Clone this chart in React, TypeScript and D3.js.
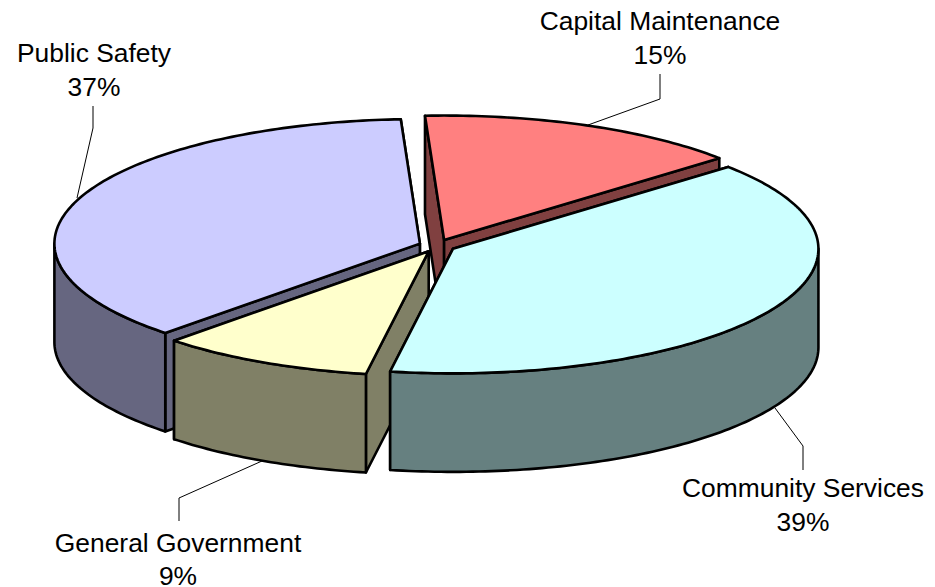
import React from "react";
import * as d3 from "d3";

const categories = ["Capital Maintenance", "Community Services", "General Government", "Public Safety"];
const values = [14.4, 39.18, 9.52, 36.9];
const percentLabels = ["15%", "39%", "9%", "37%"];
const topColors = ["#FF8080", "#CCFFFF", "#FFFFCC", "#CCCCFF"];
const wallColors = ["#804040", "#668080", "#808066", "#666680"];
const drawOrder = [0, 3, 2, 1];

const W = 935, H = 587;
const CX = 437, CY = 245.8, RX = 365.5, RY = 124.5, DEPTH = 98.5, EXPLODE = 0.05;
const START = (-3.0 * Math.PI) / 180;

const pieGen = d3.pie<number>().sort(null).startAngle(START).endAngle(START + 2 * Math.PI);
const arcs = pieGen(values);

type P = [number, number];
const fmt = (p: P) => `${p[0].toFixed(2)},${p[1].toFixed(2)}`;

function arcPts(c: P, a0: number, a1: number, dy = 0): P[] {
  const n = Math.max(2, Math.ceil(((a1 - a0) * 180) / Math.PI));
  const t = d3.scaleLinear().domain([0, n]).range([a0, a1]);
  return d3.range(n + 1).map((i) => [c[0] + RX * Math.sin(t(i)), c[1] - RY * Math.cos(t(i)) + dy] as P);
}
const poly = (pts: P[]) => "M" + pts.map(fmt).join("L") + "Z";

const leaders: { pts: P[] }[] = [
  { pts: [[660, 74], [660, 99], [588, 125]] },
  { pts: [[775, 408], [803, 446], [803, 470]] },
  { pts: [[262, 461], [179, 498], [179, 521]] },
  { pts: [[93, 106], [93, 128], [77, 198]] },
];
const labels: { idx: number; x: number; y1: number; y2: number }[] = [
  { idx: 0, x: 660, y1: 30, y2: 64 },
  { idx: 1, x: 803, y1: 497, y2: 531 },
  { idx: 2, x: 178, y1: 552, y2: 585 },
  { idx: 3, x: 94, y1: 62, y2: 96 },
];

export default function App() {
  return (
    <svg width={W} height={H} style={{ position: "absolute", left: 0, top: 0, background: "#fff" }}>
      {drawOrder.map((i) => {
        const a = arcs[i];
        const mid = (a.startAngle + a.endAngle) / 2;
        const c: P = [CX + EXPLODE * RX * Math.sin(mid), CY - EXPLODE * RY * Math.cos(mid)];
        const top = arcPts(c, a.startAngle, a.endAngle);
        const first = top[0], last = top[top.length - 1];
        const down = (p: P): P => [p[0], p[1] + DEPTH];
        const PI = Math.PI;
        const rs = [Math.max(a.startAngle, PI / 2), Math.min(a.endAngle, (3 * PI) / 2)];
        const rim = rs[0] < rs[1] ? arcPts(c, rs[0], rs[1]) : [];
        const rimPath = rim.length ? poly([...rim, ...rim.slice().reverse().map(down)]) : null;
        const ends = [first, last].sort((p, q) => p[1] - q[1]);
        return (
          <g key={categories[i]} stroke="#000" strokeWidth={2.6} strokeLinejoin="round">
            {ends.map((e, k) => (
              <path key={k} d={poly([c, e, down(e), down(c)])} fill={wallColors[i]} />
            ))}
            {rimPath && <path d={rimPath} fill={wallColors[i]} />}
            <path d={poly([c, ...top])} fill={topColors[i]} />
          </g>
        );
      })}
      {leaders.map((l, i) => (
        <path key={i} d={"M" + l.pts.map(fmt).join("L")} fill="none" stroke="#000" strokeWidth={1} />
      ))}
      {labels.map((l) => (
        <text key={l.idx} textAnchor="middle" fontFamily="'Liberation Sans', Arial, sans-serif" fontSize={26.4} fill="#000">
          <tspan x={l.x} y={l.y1}>{categories[l.idx]}</tspan>
          <tspan x={l.x} y={l.y2}>{percentLabels[l.idx]}</tspan>
        </text>
      ))}
    </svg>
  );
}
